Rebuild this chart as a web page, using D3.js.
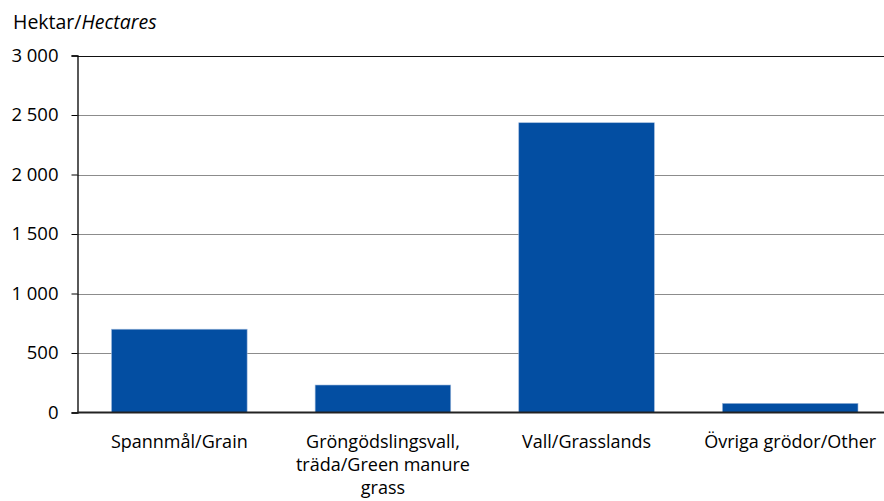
<!DOCTYPE html>
<html>
<head>
<meta charset="utf-8">
<script src="https://cdn.jsdelivr.net/npm/d3@7"></script>
<style>
  html, body { margin: 0; padding: 0; background: #fff; }
  svg { display: block; }
  text { font-family: "Open Sans", "Noto Sans", sans-serif; fill: #000; }
</style>
</head>
<body>
<div id="chart"></div>
<script>
const categories = [
  "Spannmål/Grain",
  "Gröngödslingsvall,\nträda/Green manure\ngrass",
  "Vall/Grasslands",
  "Övriga grödor/Other"
];
const values = [700, 231, 2435, 77];
const yTicks = [0, 500, 1000, 1500, 2000, 2500, 3000];
const yTickLabels = ["0", "500", "1 000", "1 500", "2 000", "2 500", "3 000"];
const yTitle = ["Hektar/", "Hectares"];

const W = 884, H = 501;
const margin = { top: 55.5, left: 77.5, bottom: 88.5, right: -8 };
const svg = d3.select("#chart").append("svg").attr("width", W).attr("height", H);

const x = d3.scaleBand()
  .domain(categories)
  .range([margin.left, W - margin.right])
  .paddingInner(0.334)
  .paddingOuter(0.167);

const y = d3.scaleLinear()
  .domain([0, 3000])
  .range([H - margin.bottom, margin.top]);

// gridlines
svg.append("g")
  .selectAll("line")
  .data(yTicks.filter(d => d > 0 && d < 3000))
  .join("line")
  .attr("x1", margin.left).attr("x2", W)
  .attr("y1", d => Math.round(y(d)) + 0.5).attr("y2", d => Math.round(y(d)) + 0.5)
  .attr("stroke", "#8c8c8c").attr("stroke-width", 1);

// top border
svg.append("line")
  .attr("x1", margin.left).attr("x2", W)
  .attr("y1", Math.round(y(3000)) + 0.5).attr("y2", Math.round(y(3000)) + 0.5)
  .attr("stroke", "#111").attr("stroke-width", 1.2);

// bars
svg.append("g")
  .selectAll("rect")
  .data(values)
  .join("rect")
  .attr("x", (d, i) => x(categories[i]))
  .attr("width", x.bandwidth())
  .attr("y", d => y(d))
  .attr("height", d => y(0) - y(d))
  .attr("fill", "#034ea2")
  .attr("stroke", "#9fb9dc")
  .attr("stroke-width", 0.6);

// y axis
const yAxis = d3.axisLeft(y)
  .tickValues(yTicks)
  .tickFormat((d, i) => yTickLabels[i])
  .tickSize(6)
  .tickPadding(13);
const gy = svg.append("g")
  .attr("transform", `translate(${margin.left},0)`)
  .call(yAxis);
gy.select(".domain").attr("stroke", "#000").attr("stroke-width", 1.3);
gy.selectAll(".tick line").attr("stroke", "#000");
gy.selectAll(".tick text")
  .attr("font-size", 18.5)
  .attr("font-family", "'Open Sans', sans-serif")
  .attr("fill", "#000");

// x axis baseline
svg.append("line")
  .attr("x1", margin.left).attr("x2", W)
  .attr("y1", y(0)).attr("y2", y(0))
  .attr("stroke", "#222").attr("stroke-width", 2);

// x labels
const xl = svg.append("g");
categories.forEach((c, i) => {
  const lines = c.split("\n");
  const t = xl.append("text")
    .attr("text-anchor", "middle")
    .attr("font-size", 18)
    .attr("x", x(c) + x.bandwidth() / 2)
    .attr("y", y(0) + 35);
  lines.forEach((ln, j) => {
    t.append("tspan")
      .attr("x", x(c) + x.bandwidth() / 2)
      .attr("dy", j === 0 ? 0 : 23)
      .text(ln);
  });
});

// y title
const tt = svg.append("text")
  .attr("x", 13).attr("y", 29)
  .attr("font-size", 19.5);
tt.append("tspan").text(yTitle[0]);
tt.append("tspan").attr("font-style", "italic").text(yTitle[1]);
</script>
</body>
</html>
